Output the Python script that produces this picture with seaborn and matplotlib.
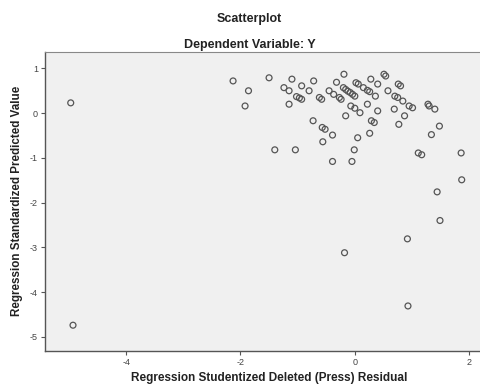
import matplotlib
matplotlib.use("Agg")
import matplotlib.pyplot as plt
import seaborn as sns
import pandas as pd

# Studentized deleted residuals (x) and standardized predicted values (y)
x_resid = [-4.97, -4.93, -2.13, -1.86, -1.92, -1.50, -1.24, -1.10, -1.15, -1.15,
           -1.02, -0.97, -0.93, -0.93, -0.80, -0.72, -0.62, -0.58, -0.73, -0.57,
           -0.52, -0.45, -0.37, -0.32, -0.27, -0.24, -0.19, -0.20, -0.16, -0.12,
           -0.08, -0.04, 0.00, -0.07, 0.00, 0.09, -0.16, 0.02, 0.06, 0.15,
           0.22, 0.26, 0.28, 0.40, 0.36, 0.22, 0.40, 0.29, 0.34, 0.51,
           0.54, 0.58, 0.69, 0.76, 0.80, 0.70, 0.75, 0.84, 0.77, 0.87,
           0.95, 1.01, 1.28, 1.30, 1.40, 1.48, 1.34, -0.39, 0.26, 0.05,
           -0.56, -1.40, -1.04, -0.01, -0.39, -0.05, 1.11, 1.17, 1.86, 1.87,
           1.44, 1.49, 0.92, -0.18, 0.93]
y_pred = [0.23, -4.74, 0.72, 0.50, 0.16, 0.79, 0.57, 0.76, 0.50, 0.20,
          0.37, 0.34, 0.31, 0.61, 0.50, 0.72, 0.35, 0.31, -0.17, -0.32,
          -0.36, 0.50, 0.42, 0.69, 0.35, 0.31, 0.87, 0.57, 0.53, 0.49,
          0.46, 0.42, 0.38, 0.16, 0.11, 0.01, -0.06, 0.68, 0.65, 0.57,
          0.51, 0.48, 0.76, 0.65, 0.38, 0.20, 0.05, -0.17, -0.21, 0.87,
          0.83, 0.50, 0.09, 0.65, 0.61, 0.38, 0.35, 0.27, -0.25, -0.06,
          0.16, 0.12, 0.20, 0.16, 0.09, -0.29, -0.48, -0.49, -0.45, -0.55,
          -0.64, -0.82, -0.82, -0.82, -1.08, -1.08, -0.89, -0.93, -0.89, -1.49,
          -1.76, -2.40, -2.81, -3.12, -4.31]

x_ticks = [-4, -2, 0, 2]
y_ticks = [1, 0, -1, -2, -3, -4, -5]

df = pd.DataFrame({"resid": x_resid, "pred": y_pred})

sns.set_theme(style="white")
plt.rcParams["font.family"] = ["Liberation Sans", "DejaVu Sans"]

fig = plt.figure(figsize=(4.8, 3.85), dpi=100)
fig.patch.set_facecolor("white")
ax = fig.add_axes([45 / 480, 1 - 350.7 / 385, 435 / 480, (350.7 - 52.3) / 385])
ax.set_facecolor("#f0f0f0")

sns.scatterplot(data=df, x="resid", y="pred", ax=ax, marker="o", s=18,
                facecolor="none", edgecolor="#555555", linewidth=0.9, legend=False)

ax.set_xlim(-5.42, 2.19)
ax.set_ylim(-5.31, 1.36)
ax.set_xticks(x_ticks)
ax.set_yticks(y_ticks)
ax.set_xticklabels([str(t) for t in x_ticks])
ax.set_yticklabels([str(t) for t in y_ticks])
ax.tick_params(axis="both", direction="out", length=3, width=0.8,
               colors="#555555", labelsize=6.5, pad=2, bottom=True, left=True)
ax.tick_params(axis="both", labelcolor="#444444")

for side in ["left", "bottom"]:
    ax.spines[side].set_color("#555555")
    ax.spines[side].set_linewidth(1.0)
ax.spines["top"].set_color("#888888")
ax.spines["top"].set_linewidth(0.8)
ax.spines["right"].set_visible(False)

ax.set_xlabel("")
ax.set_ylabel("")

fig.text(249 / 480, 1 - 19 / 385, "Scatterplot", ha="center", va="center",
         fontsize=9, fontweight="bold", color="#222222")
fig.text(249.5 / 480, 1 - 45 / 385, "Dependent Variable: Y", ha="center", va="center",
         fontsize=9, fontweight="bold", color="#222222")
fig.text(269 / 480, 1 - 378 / 385, "Regression Studentized Deleted (Press) Residual",
         ha="center", va="center", fontsize=8.5, fontweight="bold", color="#222222")
fig.text(17 / 480, 1 - 201 / 385, "Regression Standardized Predicted Value",
         ha="center", va="center", rotation=90, fontsize=8.4, fontweight="bold",
         color="#222222")

fig.savefig("out.png", dpi=100, facecolor="white")
